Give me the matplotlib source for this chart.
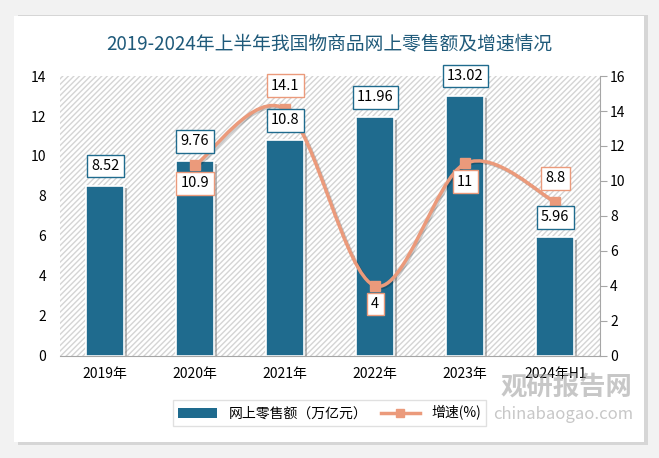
import numpy as np
import matplotlib
matplotlib.use('Agg')
import matplotlib.pyplot as plt
from matplotlib.patches import Rectangle, FancyBboxPatch, PathPatch
from matplotlib.path import Path
from matplotlib.lines import Line2D
import matplotlib.patheffects as pe

plt.rcParams['font.family'] = ['Noto Sans CJK SC', 'DejaVu Sans']

# data
years = ['2019年', '2020年', '2021年', '2022年', '2023年', '2024年H1']
sales = [8.52, 9.76, 10.8, 11.96, 13.02, 5.96]
growth_years = [1, 2, 3, 4, 5]
growth = [10.9, 14.1, 4, 11, 8.8]
growth_label_above = [False, True, False, False, True]

BAR = '#1f6b8e'
LINE = '#eb9a7b'
TITLE = '#1f5a7a'


def smooth_path(xs, ys, t=1/6):
    # Bezier path through the points (Excel-like smoothed line)
    pts = np.column_stack([xs, ys]).astype(float)
    n = len(pts)
    verts = [pts[0]]
    codes = [Path.MOVETO]
    for i in range(n - 1):
        p0 = pts[i - 1] if i > 0 else pts[i]
        p1 = pts[i]
        p2 = pts[i + 1]
        p3 = pts[i + 2] if i + 2 < n else pts[i + 1]
        c1 = p1 + (p2 - p0) * t
        c2 = p2 - (p3 - p1) * t
        verts += [c1, c2, p2]
        codes += [Path.CURVE4] * 3
    return Path(verts, codes)


fig = plt.figure(figsize=(6.59, 4.58), dpi=100)
fig.patch.set_facecolor('#f2f2f2')
# white card with soft shadow
fig.patches.append(FancyBboxPatch((0.028, 0.028), 0.955, 0.94, boxstyle='square,pad=0',
                                  transform=fig.transFigure, fc='#d6d6d6', ec='none', zorder=0))
fig.patches.append(FancyBboxPatch((0.022, 0.035), 0.955, 0.93, boxstyle='square,pad=0',
                                  transform=fig.transFigure, fc='white', ec='none', zorder=0))

fig.text(0.5, 0.905, '2019-2024年上半年我国物商品网上零售额及增速情况', ha='center', va='center',
         fontsize=13.5, color=TITLE)

ax = fig.add_axes([0.091, 0.223, 0.82, 0.611])
ax2 = ax.twinx()
ax.set_zorder(1)
ax.patch.set_visible(False)
ax2.set_zorder(2)
ax2.patch.set_visible(False)

# hatched plot background
bg = Rectangle((0, 0), 1, 1, transform=ax.transAxes, fc='white', ec='#d4d4d4',
               hatch='//////', lw=0, zorder=0)
ax.add_patch(bg)

x = np.arange(len(years))
bars = ax.bar(x, sales, width=0.42, color=BAR, edgecolor='white', lw=1.2, zorder=2,
              path_effects=[pe.SimplePatchShadow(offset=(2, -2), shadow_rgbFace='#777777', alpha=0.5),
                            pe.Normal()])

ax.set_xlim(-0.5, 5.5)
ax.set_ylim(0, 14)
ax.set_yticks(range(0, 15, 2))
ax.set_xticks(x)
ax.set_xticklabels(years, fontsize=10)
ax.tick_params(axis='x', length=0, pad=8)
ax.tick_params(axis='y', length=0, labelsize=10, pad=10)
for s in ['top', 'left', 'right']:
    ax.spines[s].set_visible(False)
ax.spines['bottom'].set_color('#a6a6a6')

ax2.set_ylim(0, 16)
ax2.set_yticks(range(0, 17, 2))
ax2.tick_params(axis='y', direction='out', length=5, color='#a6a6a6', labelsize=10, pad=2)
for s in ['top', 'left', 'bottom']:
    ax2.spines[s].set_visible(False)
ax2.spines['right'].set_color('#a6a6a6')

path = smooth_path(growth_years, growth)
ax2.add_patch(PathPatch(path, fc='none', ec=LINE, lw=2.5, zorder=3,
                        path_effects=[pe.SimpleLineShadow(offset=(1, -1), alpha=0.2), pe.Normal()]))
ax2.plot(growth_years, growth, ls='none', marker='s', ms=7, color=LINE, zorder=4)
for xi, v, above in zip(growth_years, growth, growth_label_above):
    ax2.annotate(f'{v:g}', (xi, v), xytext=(0, 12 if above else -8), textcoords='offset points',
                 ha='center', va='bottom' if above else 'top', fontsize=10.5, zorder=6,
                 bbox=dict(boxstyle='square,pad=0.3', fc='white', ec=LINE, lw=1))

# bar labels drawn on top of the line
for xi, v in zip(x, sales):
    ax2.annotate(f'{v:g}', (xi, v), xycoords=ax.transData, xytext=(0, 9), textcoords='offset points',
                 ha='center', va='bottom', fontsize=10.5, color='black', zorder=7,
                 bbox=dict(boxstyle='square,pad=0.3', fc='white', ec=BAR, lw=1))

handles = [Rectangle((0, 0), 1, 1, fc=BAR),
           Line2D([], [], color=LINE, lw=2.5, marker='s', ms=6)]
leg = fig.legend(handles, ['网上零售额（万亿元）', '增速(%)'], loc='center', ncol=2,
                 bbox_to_anchor=(0.5, 0.098), fontsize=10, frameon=True, fancybox=False,
                 handlelength=2.8, columnspacing=1.0)
leg.get_frame().set_edgecolor('#d9d9d9')
leg.get_frame().set_linewidth(1)

# watermark
fig.text(0.86, 0.152, '观研报告网', ha='center', va='center', fontsize=19, color='#9a9a9a',
         fontweight='bold', alpha=0.55)
fig.text(0.855, 0.096, 'chinabaogao.com', ha='center', va='center', fontsize=12, color='#9a9a9a',
         alpha=0.55)

plt.savefig('out.png', dpi=100)
